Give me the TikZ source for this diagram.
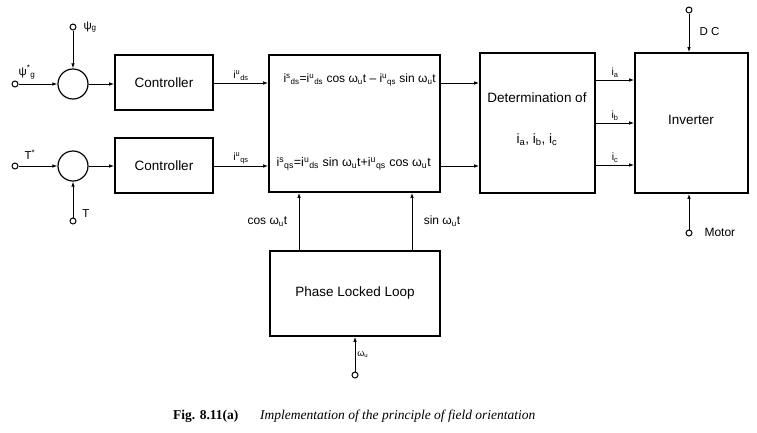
\documentclass[tikz,border=0pt]{standalone}
\usepackage{fontspec}
\setmainfont{Liberation Sans}
\newfontfamily\capfont{Liberation Serif}
\usetikzlibrary{arrows.meta}
\newcommand{\myup}[1]{\textsuperscript{#1}}
\newcommand{\mydn}[1]{\textsubscript{#1}}
\begin{document}
\begin{tikzpicture}[x=1pt,y=-1pt,
  blk/.style={draw,line width=1.6pt,inner sep=0pt},
  conn/.style={line width=0.9pt,-{Latex[length=5pt,width=3.5pt]}},
  term/.style={circle,draw,line width=1pt,fill=white,minimum size=6pt,inner sep=0pt},
  sumc/.style={circle,draw,line width=1.2pt,minimum size=30pt,inner sep=0pt},
  lbl/.style={font=\fontsize{10.5}{12}\selectfont,inner sep=2pt},
  txt/.style={font=\fontsize{13.5}{15}\selectfont}]
\useasboundingbox (0,0) rectangle (757,432);
% blocks
\node[blk,minimum width=98pt,minimum height=55pt] (c1) at (164,82.5) {};
\node[txt] at (c1) {Controller};
\node[blk,minimum width=98pt,minimum height=55pt] (c2) at (164,165.5) {};
\node[txt] at (c2) {Controller};
\node[blk,minimum width=171pt,minimum height=137pt] (big) at (354.5,123.5) {};
\node[blk,minimum width=115pt,minimum height=140pt] (det) at (537.5,123) {};
\node[blk,minimum width=113pt,minimum height=140pt] (inv) at (691.5,123) {};
\node[txt] at (691,120) {Inverter};
\node[txt] at (537,98) {Determination of};
\node[txt] at (537,140) {i\mydn{a}, i\mydn{b}, i\mydn{c}};
\node[blk,minimum width=170pt,minimum height=85pt] (pll) at (355,293.5) {};
\node[txt] at (pll) {Phase Locked Loop};
\node[font=\fontsize{12}{14}\selectfont,anchor=west] at (280,80) {i\myup{s}\mydn{ds}=i\myup{u}\mydn{ds} cos ω\mydn{u}t -- i\myup{u}\mydn{qs} sin ω\mydn{u}t};
\node[font=\fontsize{12.5}{14}\selectfont,anchor=west] at (273,164) {i\myup{s}\mydn{qs}=i\myup{u}\mydn{ds} sin ω\mydn{u}t+i\myup{u}\mydn{qs} cos ω\mydn{u}t};
% summing circles
\node[sumc] (s1) at (73,84) {};
\node[sumc] (s2) at (73,166) {};
% terminals
\node[term] (tpsi) at (73,27) {};
\node[term] (tpsis) at (15,84) {};
\node[term] (tts) at (15,166) {};
\node[term] (tt) at (73,221) {};
\node[term] (tdc) at (689,10) {};
\node[term] (tmot) at (689,233) {};
\node[term] (tw) at (355,375) {};
% labels
\node[font=\fontsize{11.5}{12}\selectfont,anchor=west] at (80,27) {ψ\mydn{g}};
\node[font=\fontsize{11.5}{12}\selectfont] at (27,72) {ψ\myup{*}\mydn{g}};
\node[font=\fontsize{11.5}{12}\selectfont] at (30,155) {T\myup{*}};
\node[font=\fontsize{11.5}{12}\selectfont] at (86,214) {T};
\node[font=\fontsize{11.5}{12}\selectfont,anchor=west] at (696,32) {D C};
\node[font=\fontsize{12}{12}\selectfont,anchor=west] at (701,232) {Motor};
% connectors
\draw[conn] (tpsi) -- (s1.north);
\draw[conn] (tpsis) -- (s1.west);
\draw[conn] (s1.east) -- (c1.west |- s1.east);
\draw[conn] (tts) -- (s2.west);
\draw[conn] (tt) -- (s2.south);
\draw[conn] (s2.east) -- (c2.west |- s2.east);
\coordinate (r1) at (c1.east |- 0,83);
\coordinate (r2) at (c2.east |- 0,166);
\draw[conn] (r1) -- (big.west |- r1) node[lbl,midway,above] {i\myup{u}\mydn{ds}};
\draw[conn] (r2) -- (big.west |- r2) node[lbl,midway,above] {i\myup{u}\mydn{qs}};
\draw[conn] (big.east |- r1) -- (det.west |- r1);
\draw[conn] (big.east |- r2) -- (det.west |- r2);
\coordinate (oa) at (det.east |- 0,80);
\coordinate (ob) at (det.east |- 0,123);
\coordinate (oc) at (det.east |- 0,165);
\draw[conn] (oa) -- (inv.west |- oa) node[lbl,midway,above] {i\mydn{a}};
\draw[conn] (ob) -- (inv.west |- ob) node[lbl,midway,above] {i\mydn{b}};
\draw[conn] (oc) -- (inv.west |- oc) node[lbl,midway,above] {i\mydn{c}};
\draw[conn] (tdc) -- (inv.north -| tdc);
\draw[conn] (tmot) -- (inv.south -| tmot);
\coordinate (pc) at (pll.north -| 299,0);
\coordinate (ps) at (pll.north -| 412,0);
\draw[conn] (pc) -- (big.south -| pc) node[midway,left=8pt,font=\fontsize{12}{12}\selectfont] {cos ω\mydn{u}t};
\draw[conn] (ps) -- (big.south -| ps) node[midway,right=8pt,font=\fontsize{12}{12}\selectfont] {sin ω\mydn{u}t};
\draw[conn] (tw) -- (pll.south -| tw) node[midway,right,lbl,font=\fontsize{9}{10}\selectfont] {ω\mydn{u}};
% caption
\node[anchor=base west,inner sep=0pt,font=\capfont\fontsize{13.5}{14}\selectfont\bfseries] at (173,419) {Fig. 8.11(a)};
\node[anchor=base west,inner sep=0pt,font=\capfont\fontsize{13.5}{14}\selectfont\itshape] at (260,419) {Implementation of the principle of field orientation};
\end{tikzpicture}
\end{document}
